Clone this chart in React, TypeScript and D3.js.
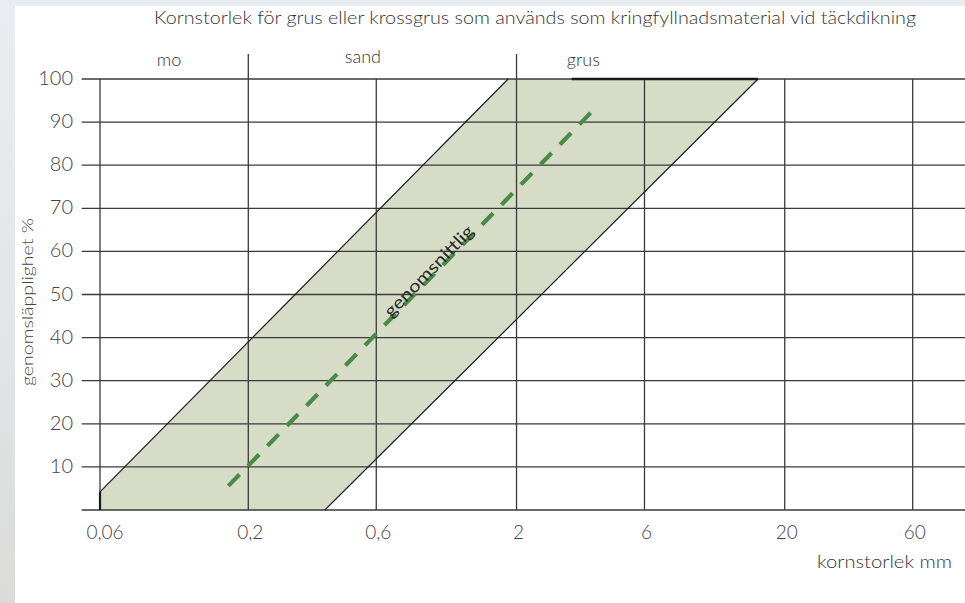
import React from "react";
import * as d3 from "d3";

// ---- data ----
const title = "Kornstorlek för grus eller krossgrus som används som kringfyllnadsmaterial vid täckdikning";
const xAxisTitle = "kornstorlek mm";
const yAxisTitle = "genomsläpplighet %";
const xTicks = [0.06, 0.2, 0.6, 2, 6, 20, 60];
const xTickLabels = ["0,06", "0,2", "0,6", "2", "6", "20", "60"];
const yTicks = [0, 10, 20, 30, 40, 50, 60, 70, 80, 90, 100];
const yTickLabels = ["", "10", "20", "30", "40", "50", "60", "70", "80", "90", "100"];
const fractionBounds = [0.2, 2]; // mo | sand | grus separators
const fractionLabels = ["mo", "sand", "grus"];
const fractionLabelAt = [0.105, 0.535, 3.55];
// upper (fine) boundary of the band: size mm, passing %
const upperSize = [0.06, 0.06, 0.2, 1.86];
const upperPct = [0, 4.2, 39, 100];
// lower (coarse) boundary
const lowerSize = [0.386, 15.9];
const lowerPct = [0, 100];
// average curve
const avgSize = [0.17, 0.2, 3.98];
const avgPct = [5.6, 10.3, 93.6];
const avgLabel = "genomsnittlig";
const avgLabelPct = 54.5;
const thickTopFrom = 3.21;

const W = 965;
const H = 603;

export default function App() {
  const x = d3.scaleLog().domain([0.06, 0.2, 60]).range([100, 248.3, 912.7]);
  const y = d3.scaleLinear().domain([0, 100]).range([510, 79]);

  const upper = upperSize.map((s, i) => [x(s), y(upperPct[i])] as [number, number]);
  const lower = lowerSize.map((s, i) => [x(s), y(lowerPct[i])] as [number, number]);
  const band = [...upper, ...lower.slice().reverse()];
  const line = d3.line();
  const bandPath = line(band) + "Z";
  const upperDiag = line(upper.slice(1));
  const lowerPath = line(lower);

  const avg = avgSize.map((s, i) => [x(s), y(avgPct[i])] as [number, number]);
  const avgPath = line(avg);

  const p1 = avg[1];
  const p2 = avg[2];
  const ly = y(avgLabelPct);
  const t = (ly - p1[1]) / (p2[1] - p1[1]);
  const lx = p1[0] + t * (p2[0] - p1[0]);
  const angle = (Math.atan2(p2[1] - p1[1], p2[0] - p1[0]) * 180) / Math.PI;

  const font = "Lato, 'Open Sans', sans-serif";
  const gridColor = "#3a3a3a";

  return (
    <svg
      width={W}
      height={H}
      style={{ position: "absolute", left: 0, top: 0 }}
      fontFamily={font}
    >
      <defs>
        <linearGradient id="bg" x1="0" y1="0" x2="0" y2="1">
          <stop offset="0" stopColor="#e9edf1" />
          <stop offset="0.5" stopColor="#e3e6e8" />
          <stop offset="1" stopColor="#dadbd9" />
        </linearGradient>
      </defs>
      <rect x={0} y={0} width={W} height={H} fill="url(#bg)" />
      <rect x={15} y={6} width={W - 15} height={H - 6} fill="#ffffff" />

      <text x={154} y={24} fontSize={18} fontWeight={300} fill="#333" textLength={762} lengthAdjust="spacingAndGlyphs">
        {title}
      </text>

      <path d={bandPath} fill="#d6dcc6" stroke="none" />

      {yTicks.map((v) => (
        <line key={"h" + v} x1={81.7} x2={W} y1={y(v)} y2={y(v)} stroke={gridColor} strokeWidth={1.3} />
      ))}
      {xTicks.map((v) => (
        <line
          key={"v" + v}
          x1={x(v)}
          x2={x(v)}
          y1={y(0)}
          y2={fractionBounds.includes(v) ? 54 : y(100)}
          stroke={gridColor}
          strokeWidth={1.3}
        />
      ))}

      <path d={upperDiag!} fill="none" stroke="#1a1a1a" strokeWidth={1.2} />
      <line x1={upper[0][0]} x2={upper[1][0]} y1={upper[0][1]} y2={upper[1][1]} stroke="#1a1a1a" strokeWidth={2.2} />
      <path d={lowerPath!} fill="none" stroke="#1a1a1a" strokeWidth={1.2} />
      <line x1={x(thickTopFrom)} x2={x(lowerSize[1])} y1={y(100)} y2={y(100)} stroke="#1a1a1a" strokeWidth={2.6} />

      <path d={avgPath!} fill="none" stroke="#4a8a48" strokeWidth={4.2} strokeDasharray="16,12" />
      <text
        transform={`translate(${lx},${ly}) rotate(${angle})`}
        textAnchor="middle"
        fontSize={17}
        fill="#2a2a2a"
        textLength={120}
        lengthAdjust="spacingAndGlyphs"
      >
        {avgLabel}
      </text>

      {fractionLabels.map((lab, i) => (
        <text key={lab} x={x(fractionLabelAt[i])} y={i === 1 ? 63 : 66} textAnchor="middle" fontSize={18} fontWeight={300} fill="#333">
          {lab}
        </text>
      ))}

      {yTicks.map((v, i) =>
        yTickLabels[i] ? (
          <text key={"yl" + v} x={73} y={y(v) + 6} textAnchor="end" fontSize={20} fontWeight={300} fill="#444">
            {yTickLabels[i]}
          </text>
        ) : null
      )}
      {xTicks.map((v, i) => (
        <text key={"xl" + v} x={x(v) + (i === 0 ? 5 : 2)} y={539} textAnchor="middle" fontSize={19} fontWeight={300} fill="#444">
          {xTickLabels[i]}
        </text>
      ))}

      <text x={952} y={568} textAnchor="end" fontSize={18} fontWeight={300} fill="#333" textLength={135} lengthAdjust="spacingAndGlyphs">
        {xAxisTitle}
      </text>
      <text
        transform="translate(33,302) rotate(-90)"
        textAnchor="middle"
        fontSize={16}
        fontWeight={300}
        fill="#444"
        textLength={168}
        lengthAdjust="spacingAndGlyphs"
      >
        {yAxisTitle}
      </text>
    </svg>
  );
}
